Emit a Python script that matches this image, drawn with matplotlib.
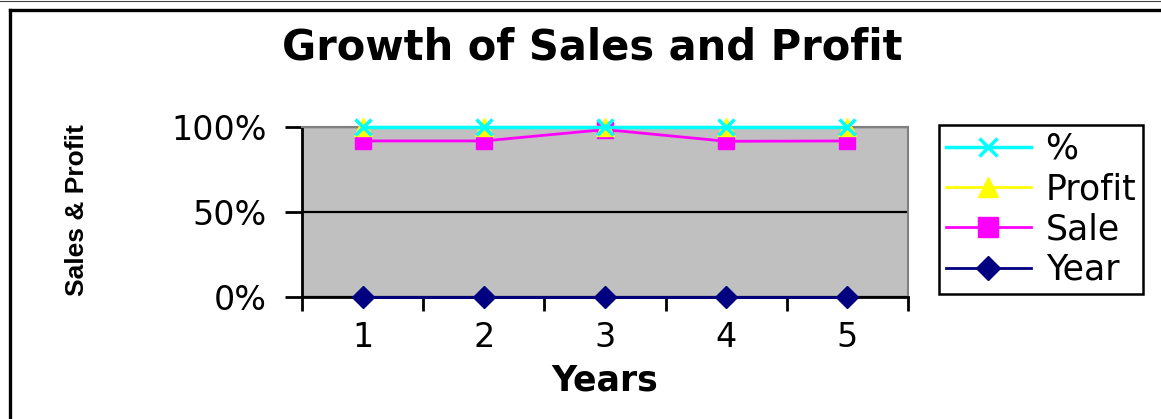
import matplotlib
matplotlib.use("Agg")
import matplotlib.pyplot as plt
from matplotlib.lines import Line2D
from matplotlib.ticker import PercentFormatter, FixedLocator

# ---- data (stacked 100% positions) ----
years = [1, 2, 3, 4, 5]
year_line = [0.0, 0.0, 0.0, 0.0, 0.0]
sale_line = [91.8, 91.8, 98.5, 91.6, 91.8]
profit_line = [99.8, 99.8, 99.8, 99.8, 99.8]
pct_line = [100.0, 100.0, 100.0, 100.0, 100.0]
y_ticks = [0, 50, 100]

title = "Growth of Sales and Profit"
x_label = "Years"
y_label = "Sales & Profit"

W, H = 1161, 419
fig = plt.figure(figsize=(W / 100, H / 100), dpi=100)
fig.patch.set_facecolor("white")

def fx(px):
    return px / W

def fy(py):
    return 1 - py / H

# plot area
ax = fig.add_axes([fx(302), fy(297), fx(908) - fx(302), fy(127) - fy(297)])
ax.set_facecolor("#C0C0C0")
ax.set_xlim(0.5, 5.5)
ax.set_ylim(0, 100)

ax.yaxis.set_major_locator(FixedLocator(y_ticks))
ax.yaxis.set_major_formatter(PercentFormatter(xmax=100, decimals=0))
ax.grid(axis="y", color="black", lw=1.6, zorder=1)
ax.set_axisbelow(True)

ax.set_xticks(years)
ax.set_xticklabels([str(y) for y in years])
ax.set_xticks([y - 0.5 for y in years] + [years[-1] + 0.5], minor=True)
ax.tick_params(axis="x", which="major", length=0, pad=17, labelsize=24)
ax.tick_params(axis="x", which="minor", length=10, width=2, direction="out", color="black")
ax.tick_params(axis="y", length=12, width=2, direction="out", pad=13.5, labelsize=24)

for s in ["left", "bottom"]:
    ax.spines[s].set_color("black")
    ax.spines[s].set_linewidth(2)
for s in ["right", "top"]:
    ax.spines[s].set_color("#808080")
    ax.spines[s].set_linewidth(1.5)

l_year, = ax.plot(years, year_line, color="#000080", lw=2, marker="D", ms=11,
                  mec="#000080", mfc="#000080", clip_on=False, zorder=3, label="Year")
l_sale, = ax.plot(years, sale_line, color="#FF00FF", lw=2, marker="s", ms=12,
                  mec="#FF00FF", mfc="#FF00FF", clip_on=False, zorder=4, label="Sale")
l_prof, = ax.plot(years, profit_line, color="#FFFF00", lw=2, marker="^", ms=13,
                  mec="#FFFF00", mfc="#FFFF00", clip_on=False, zorder=5, label="Profit")
l_pct, = ax.plot(years, pct_line, color="#00FFFF", lw=2.5, marker="x", ms=11, mew=2.5,
                 mec="#00FFFF", clip_on=False, zorder=6, label="%")

# title and axis labels
fig.text(fx(592), fy(59), title, ha="center", va="baseline",
         fontsize=30, fontweight="bold", color="black")
fig.text(fx(605), fy(390), x_label, ha="center", va="baseline",
         fontsize=25, fontweight="bold", color="black")
fig.text(fx(77), fy(210), y_label, ha="center", va="center", rotation=90,
         family=["Liberation Sans", "DejaVu Sans"],
         fontsize=19, fontweight="bold", color="black")

# legend
leg = fig.legend(handles=[l_pct, l_prof, l_sale, l_year],
                 labels=["%", "Profit", "Sale", "Year"],
                 loc="upper left", bbox_to_anchor=(fx(939), fy(125)),
                 bbox_transform=fig.transFigure, borderaxespad=0,
                 fontsize=25, frameon=True, fancybox=False, shadow=False,
                 handlelength=2.45, handletextpad=0.42, labelspacing=0.18,
                 borderpad=0.2, numpoints=1, markerscale=1.15)
leg.get_frame().set_edgecolor("black")
leg.get_frame().set_linewidth(1.8)
leg.get_frame().set_facecolor("white")
leg.get_frame().set_alpha(1)

# outer chart frame
fig.add_artist(Line2D([0, 1], [fy(0.6), fy(0.6)], color="#404040", lw=0.8))
fig.add_artist(Line2D([fx(10), 1], [fy(10), fy(10)], color="black", lw=2.4))
fig.add_artist(Line2D([fx(10), fx(10)], [0, fy(10)], color="black", lw=2.4))

fig.savefig("out.png", dpi=100, facecolor="white")
